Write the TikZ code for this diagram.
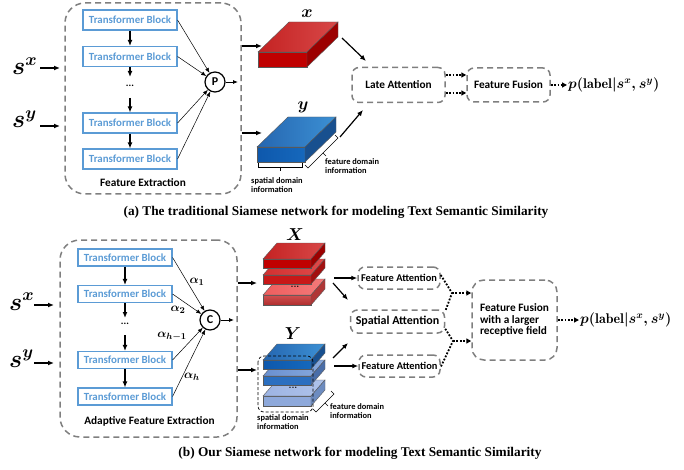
\documentclass[tikz,border=0pt]{standalone}
\usepackage{fontspec}
\usepackage{bm}
\newfontfamily\cfont{Carlito}
\newfontfamily\tfont{Liberation Serif}
\usetikzlibrary{arrows.meta,calc}
\definecolor{dgray}{HTML}{7F7F7F}
\definecolor{tblue}{HTML}{5B9BD5}
% red shades
\definecolor{xr}{HTML}{C00000}
\definecolor{xrt1}{HTML}{C42222}
\definecolor{xrt2}{HTML}{D84848}
\definecolor{xrs}{HTML}{9C0000}
\definecolor{r2f}{HTML}{C81818}
\definecolor{r2t1}{HTML}{D23030}
\definecolor{r2t2}{HTML}{E04A4A}
\definecolor{r2s}{HTML}{A31010}
\definecolor{r3f1}{HTML}{D05050}
\definecolor{r3f2}{HTML}{B02E2E}
\definecolor{r3t1}{HTML}{EE5E5E}
\definecolor{r3t2}{HTML}{F47A7A}
\definecolor{r3s}{HTML}{B03636}
% blue shades
\definecolor{yb1}{HTML}{0E58AC}
\definecolor{yb2}{HTML}{1668BC}
\definecolor{ybt1}{HTML}{2566B0}
\definecolor{ybt2}{HTML}{3C90D4}
\definecolor{ybs}{HTML}{18508F}
\definecolor{b2f}{HTML}{2B6FC0}
\definecolor{b2t1}{HTML}{6A90D0}
\definecolor{b2t2}{HTML}{88AADE}
\definecolor{b2s}{HTML}{4A6EA8}
\definecolor{b3f}{HTML}{8EA9DB}
\definecolor{b3t1}{HTML}{9DB4E3}
\definecolor{b3t2}{HTML}{AFC3EA}
\definecolor{b3s}{HTML}{6D8CC0}
\newcommand\mycuboid[9]{%
  \path[#7,draw=black!65,line width=0.4pt] (#1,#2) rectangle (#1+#3,#2+#4);
  \path[#8,draw=black!65,line width=0.4pt] (#1,#2) -- ++(#5,#6) -- ++(#3,0) -- (#1+#3,#2) -- cycle;
  \path[#9,draw=black!65,line width=0.4pt] (#1+#3,#2) -- ++(#5,#6) -- ++(0,#4) -- (#1+#3,#2+#4) -- cycle;
}
\begin{document}
\begin{tikzpicture}[x=1pt,y=-1pt,
  dbox/.style={draw=dgray,line width=1.5pt,dash pattern=on 6pt off 4pt,rounded corners=7pt,inner sep=0pt},
  obox/.style={dbox,rounded corners=20pt},
  tb/.style={draw=tblue,line width=1.1pt,text=tblue,font=\cfont\bfseries\fontsize{10.9}{12}\selectfont,minimum width=94pt,inner sep=0pt},
  lbl/.style={font=\cfont\bfseries\fontsize{11.3}{12}\selectfont},
  smalltxt/.style={font=\cfont\bfseries\fontsize{8.4}{9}\selectfont,align=left,inner sep=0pt},
  arr/.style={-{Latex[length=6pt,width=5pt]},line width=1.2pt},
  thinarr/.style={-{Latex[length=5pt,width=4pt]},line width=0.5pt},
  dotline/.style={line width=1.8pt,dash pattern=on 1.8pt off 1.6pt},
  dotarr/.style={dotline,-{Triangle[length=5pt,width=5pt]}},
  circ/.style={circle,draw,line width=1.2pt,minimum size=20pt,inner sep=0pt,font=\cfont\bfseries\fontsize{12}{12}\selectfont},
  bigm/.style={font=\fontsize{23}{23}\selectfont\boldmath,inner sep=0pt},
  alp/.style={font=\fontsize{13}{13}\selectfont\boldmath,inner sep=0pt},
  vlab/.style={font=\fontsize{16}{16}\selectfont\boldmath,inner sep=0pt},
  captxt/.style={font=\tfont\bfseries\fontsize{13.3}{15}\selectfont},
  outtxt/.style={font=\fontsize{14}{14}\selectfont\boldmath,inner sep=0pt,anchor=west},
  brk/.style={line width=0.5pt},
]
\useasboundingbox (0,0) rectangle (684,470);

%================ (a) =================
\node[obox,minimum width=176pt,minimum height=191pt] (FEa) at (153,98.5) {};
\node[lbl] (FEaL) at (143,183) {Feature Extraction};
\node[tb,minimum height=20pt] (a1) at (130,20) {Transformer Block};
\node[tb,minimum height=20pt] (a2) at (130,56.5) {Transformer Block};
\node[tb,minimum height=20pt] (a3) at (130,123) {Transformer Block};
\node[tb,minimum height=20pt] (a4) at (130,159) {Transformer Block};
\node[font=\cfont\bfseries\fontsize{10}{12}\selectfont,inner sep=0pt] (adots) at (130,86) {...};
\coordinate (ad1) at (130,77);
\coordinate (ad2) at (130,98);
\draw[arr] (a1) -- (a2);
\draw[arr] (a2) -- (ad1);
\draw[arr] (ad2) -- (a3);
\draw[arr] (a3) -- (a4);
\node[circ] (P) at (215,82) {P};
\foreach \b in {a1,a2,a3,a4} \draw[thinarr] (\b.east) -- (P);
\coordinate (Pout) at (238,82);
\draw[thinarr,line width=0.8pt] (P) -- (Pout);

\node[bigm,anchor=base west] (sxa) at (12,75) {$s^{x}$};
\node[bigm,anchor=base west] (sya) at (12,128) {$s^{y}$};
\coordinate (sxaS) at (40,68); \coordinate (sxaE) at (60,68);
\coordinate (syaS) at (40,126); \coordinate (syaE) at (60,126);
\draw[arr] (sxaS) -- (sxaE);
\draw[arr] (syaS) -- (syaE);

% cuboids
\mycuboid{258}{52}{49}{15}{31}{-30}{fill=xr}{left color=xrt1,right color=xrt2}{fill=xrs}
\mycuboid{257}{147}{48}{15}{31}{-30}{left color=yb1,right color=yb2}{left color=ybt1,right color=ybt2}{fill=ybs}
\node[vlab] (xlab) at (307,14) {$x$};
\node[vlab] (ylab) at (303,107) {$y$};
\coordinate (xin) at (262,46);
\coordinate (yin) at (262,133);
\draw[arr] (FEa.east |- xin) -- (xin);
\draw[arr] (FEa.east |- yin) -- (yin);

% brackets
\draw[brk] (258,163) -- (258,167) -- (302,167) -- (302,163);
\draw[brk] (280,167) -- (280,171);
\draw[brk] (305,165) -- (308,168) -- (338,138) -- (335,135);
\draw[brk] (323,153) -- (326,156);
\node[smalltxt,anchor=north west] (spa) at (251,177) {spatial domain\\information};
\node[smalltxt,anchor=north west] (fda) at (325,158) {feature domain\\information};

\node[dbox,minimum width=93pt,minimum height=35pt,lbl] (LA) at (398.5,85) {Late Attention};
\coordinate (xout) at (342,38); \coordinate (LAi1) at (366,61);
\coordinate (yout) at (340,137); \coordinate (LAi2) at (363,110);
\draw[arr] (xout) -- (LAi1);
\draw[arr] (yout) -- (LAi2);

\node[dbox,minimum width=83pt,minimum height=34pt,lbl] (FF) at (508.5,85) {Feature Fusion};
\draw[dotarr] ([yshift=10pt]LA.east) -- ([yshift=10pt]FF.west);
\draw[dotarr] ([yshift=-8pt]LA.east) -- ([yshift=-8pt]FF.west);
\node[outtxt] (pa) at (568,85) {$p(\mathrm{label}|s^{x},s^{y})$};
\draw[dotarr,shorten >=1pt] (FF) -- (pa);

\node[captxt] (capa) at (336,212) {(a) The traditional Siamese network for modeling Text Semantic Similarity};

%================ (b) =================
\node[obox,minimum width=177pt,minimum height=197pt] (FEb) at (148.5,338.5) {};
\node[lbl] (FEbL) at (149.5,421) {Adaptive Feature Extraction};
\node[tb,minimum height=17pt] (b1) at (125,257.5) {Transformer Block};
\node[tb,minimum height=17pt] (b2) at (125,294) {Transformer Block};
\node[tb,minimum height=17pt] (b3) at (125,360) {Transformer Block};
\node[tb,minimum height=17pt] (b4) at (125,396.5) {Transformer Block};
\node[font=\cfont\bfseries\fontsize{10}{12}\selectfont,inner sep=0pt] (bdots) at (125,324) {...};
\coordinate (bd1) at (125,318);
\coordinate (bd2) at (125,335);
\draw[arr] (b1) -- (b2);
\draw[arr] (b2) -- (bd1);
\draw[arr] (bd2) -- (b3);
\draw[arr] (b3) -- (b4);
\node[circ] (C) at (210,320) {C};
\foreach \b in {b1,b2,b3,b4} \draw[thinarr] (\b.east) -- (C);
\coordinate (Cout) at (234,320);
\draw[thinarr,line width=0.8pt] (C) -- (Cout);
\node[alp] (al1) at (197,282) {$\alpha_1$};
\node[alp] (al2) at (178,310) {$\alpha_2$};
\node[alp] (al3) at (172,336) {$\alpha_{h-1}$};
\node[alp] (al4) at (192,377) {$\alpha_h$};

\node[bigm,anchor=base west] (sxb) at (9,310) {$s^{x}$};
\node[bigm,anchor=base west] (syb) at (9,367) {$s^{y}$};
\coordinate (sxbS) at (34,305); \coordinate (sxbE) at (54,305);
\coordinate (sybS) at (34,363); \coordinate (sybE) at (54,363);
\draw[arr] (sxbS) -- (sxbE);
\draw[arr] (sybS) -- (sybE);

\coordinate (Xin) at (257,283);
\coordinate (Yin) at (257,370);
\draw[arr] (FEb.east |- Xin) -- (Xin);
\draw[arr] (FEb.east |- Yin) -- (Yin);

% X stack
\mycuboid{263}{295}{48}{10}{14}{-16}{top color=r3f1,bottom color=r3f2}{left color=r3t1,right color=r3t2}{fill=r3s}
\mycuboid{263}{275}{48}{9}{14}{-16}{fill=r2f}{left color=r2t1,right color=r2t2}{fill=r2s}
\mycuboid{263}{259}{48}{9}{14}{-16}{fill=xr}{left color=xrt1,right color=xrt2}{fill=xrs}
\node[font=\bfseries\fontsize{9}{9}\selectfont,inner sep=0pt] (xsd) at (295,287) {...};
\node[vlab] (Xlab) at (295,235) {$X$};
% Y stack
\mycuboid{263}{396}{48}{10}{14}{-16}{fill=b3f}{left color=b3t1,right color=b3t2}{fill=b3s}
\mycuboid{263}{376}{48}{9}{14}{-16}{fill=b2f}{left color=b2t1,right color=b2t2}{fill=b2s}
\mycuboid{263}{360}{48}{9}{14}{-16}{left color=yb1,right color=yb2}{left color=ybt1,right color=ybt2}{fill=ybs}
\node[font=\bfseries\fontsize{9}{9}\selectfont,inner sep=0pt] (ysd) at (293,388) {...};
\node[vlab] (Ylab) at (293,334) {$Y$};
\draw[line width=0.7pt,dash pattern=on 3pt off 2pt,rounded corners=6pt] (258,356) rectangle (313,412);

\draw[brk] (313,409) -- (316,412) -- (334,394) -- (331,391);
\draw[brk] (325,403) -- (328,406);
\node[smalltxt,anchor=north west] (spb) at (257,414) {spatial domain\\information};
\node[smalltxt,anchor=north west] (fdb) at (330,403) {feature domain\\information};

% attentions
\node[dbox,minimum width=82pt,minimum height=22pt,font=\cfont\bfseries\fontsize{10.4}{12}\selectfont] (FA1) at (399,278) {Feature Attention};
\node[dbox,minimum width=94pt,minimum height=23pt,font=\cfont\bfseries\fontsize{12}{12}\selectfont] (SA) at (397.5,321.5) {Spatial Attention};
\node[dbox,minimum width=81pt,minimum height=22pt,font=\cfont\bfseries\fontsize{10.4}{12}\selectfont] (FA2) at (399.5,366) {Feature Attention};
\coordinate (Xo1) at (334,278);
\coordinate (Xo2) at (333,283); \coordinate (SAi1) at (348,300);
\coordinate (Yo1) at (333,358); \coordinate (SAi2) at (348,343);
\coordinate (Yo2) at (334,366);
\draw[arr] (Xo1) -- (FA1.west);
\draw[arr] (Xo2) -- (SAi1);
\draw[arr] (Yo1) -- (SAi2);
\draw[arr] (Yo2) -- (FA2.west);

\node[dbox,rounded corners=12pt,minimum width=85pt,minimum height=80pt,align=left,font=\cfont\bfseries\fontsize{11.3}{11.5}\selectfont] (FF2) at (514.5,320) {Feature Fusion\\with a larger\\receptive field};
\coordinate (J1) at (452,293);
\coordinate (J2) at (453,341);
\draw[dotline] ([yshift=3pt]FA1.east) -- (J1) -- ([yshift=-2pt]SA.north east);
\draw[dotline] ([yshift=5pt]SA.south east) -- (J2) -- ([yshift=-1pt]FA2.east);
\draw[dotarr] (J1) -- (J1 -| FF2.west);
\draw[dotarr] (J2) -- (J2 -| FF2.west);
\node[outtxt] (pb) at (580,320) {$p(\mathrm{label}|s^{x},s^{y})$};
\draw[dotarr,shorten >=1pt] (FF2) -- (pb);

\node[captxt] (capb) at (360,453) {(b) Our Siamese network for modeling Text Semantic Similarity};
\end{tikzpicture}
\end{document}
